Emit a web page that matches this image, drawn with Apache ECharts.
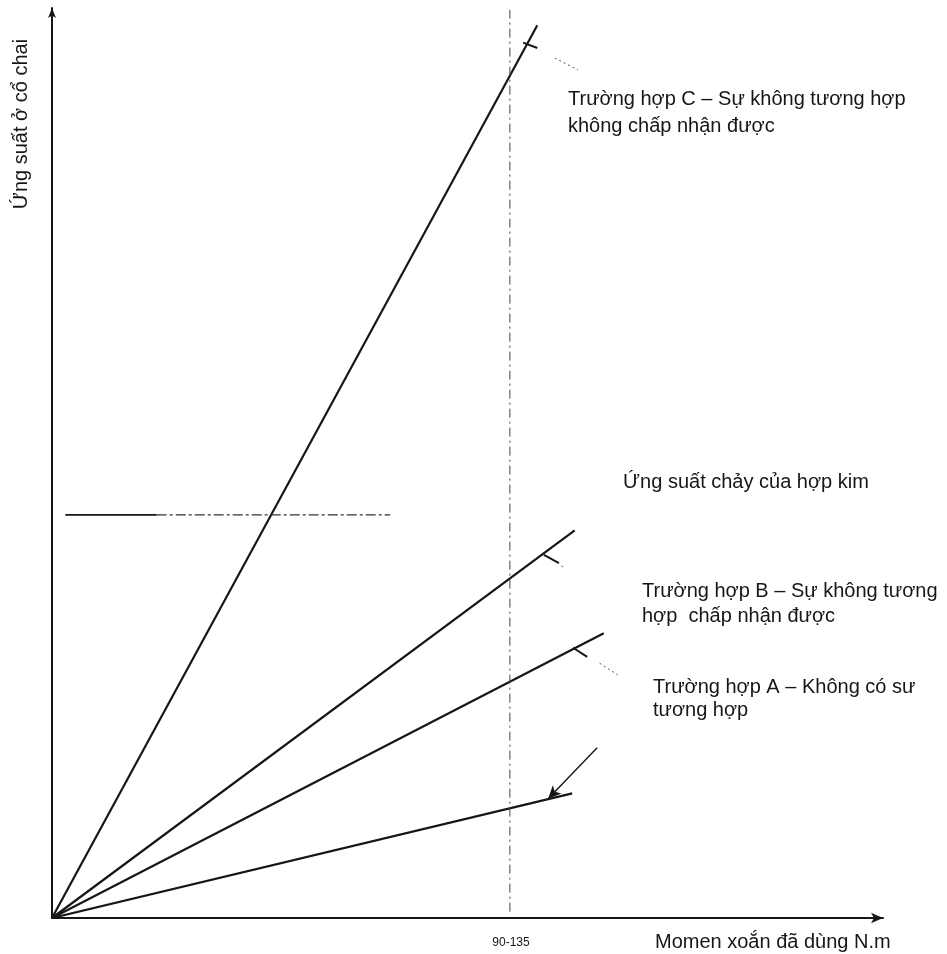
<!DOCTYPE html>
<html>
<head>
<meta charset="utf-8">
<script src="https://cdn.jsdelivr.net/npm/echarts@6/dist/echarts.min.js"></script>
<style>
html,body{margin:0;padding:0;background:#fff;}
#chart{width:947px;height:954px;}
</style>
</head>
<body>
<div id="chart"></div>
<script>
// rays from the origin, end points in axis units (0..100)
var caseC = [[0, 0], [58.4, 98.1]];
var caseB = [[0, 0], [62.9, 42.6]];
var caseA = [[0, 0], [66.4, 31.3]];
var caseLow = [[0, 0], [62.6, 13.7]];
// 90-135 N.m marker and yield stress level
var torqueX = 55.1;
var torqueLine = [[torqueX, 0.7], [torqueX, 99.8]];
var yieldY = 44.3;
var yieldSolid = [[1.6, yieldY], [12.6, yieldY]];
var yieldDash = [[12.6, yieldY], [40.7, yieldY]];
// leader ticks / dotted pointers
var tickC = [[56.7, 96.2], [58.4, 95.6]];
var dotC = [[60.5, 94.5], [63.3, 93.2]];
var tickB = [[59.2, 39.9], [61.0, 39.0]];
var dotB = [[61.3, 38.7], [61.6, 38.5]];
var tickA = [[62.7, 29.7], [64.4, 28.7]];
var dotA = [[65.9, 28.0], [68.1, 26.7]];
var arrowLow = [[65.6, 18.7], [59.7, 13.1]];

var dom = document.getElementById('chart');
var myChart = echarts.init(dom);
var ink = '#161616';
var font = "'Liberation Sans', Arial, sans-serif";

function seg(data, w, type, color) {
	return {
		type: 'line',
		data: data,
		symbol: 'none',
		silent: true,
		lineStyle: {color: color || ink, width: w, type: type || 'solid'}
	};
}

function txt(s, x, y) {
	return {
		type: 'text',
		left: x,
		top: y - 11,
		style: {text: s, fill: ink, font: '20px ' + font}
	};
}

// pointer with an arrow head, drawn as a markLine on the low ray
var lowSeries = seg(caseLow, 2.2);
lowSeries.markLine = {
	silent: true,
	animation: false,
	symbol: ['none', 'arrow'],
	symbolSize: [9, 13],
	label: {show: false},
	lineStyle: {color: ink, width: 1.4, type: 'solid'},
	data: [[{coord: arrowLow[0]}, {coord: arrowLow[1]}]]
};

option = {
	animation: false,
	backgroundColor: '#fff',
	grid: {left: 52, top: 8, right: 64, bottom: 36},
	xAxis: {
		type: 'value', min: 0, max: 100,
		axisLine: {show: true, symbol: ['none', 'arrow'], symbolSize: [8, 12], lineStyle: {color: ink, width: 2}},
		axisTick: {show: false}, axisLabel: {show: false}, splitLine: {show: false}
	},
	yAxis: {
		type: 'value', min: 0, max: 100,
		axisLine: {show: true, symbol: ['none', 'arrow'], symbolSize: [6, 10], lineStyle: {color: ink, width: 2}},
		axisTick: {show: false}, axisLabel: {show: false}, splitLine: {show: false}
	},
	series: [
		seg(caseC, 2.2),
		seg(caseB, 2.2),
		seg(caseA, 2.2),
		lowSeries,
		seg(torqueLine, 1, [9, 4, 2, 4], '#444'),
		seg(yieldSolid, 1.8),
		seg(yieldDash, 1.4, [10, 3, 3, 3], '#333'),
		seg(tickC, 2),
		seg(dotC, 1, [2, 3], '#555'),
		seg(tickB, 2),
		seg(dotB, 1, [2, 3], '#555'),
		seg(tickA, 2),
		seg(dotA, 1, [2, 3], '#555')
	],
	graphic: [
		txt('Trường hợp C – Sự không tương hợp', 568, 100),
		txt('không chấp nhận được', 568, 127),
		txt('Ứng suất chảy của hợp kim', 623, 483),
		txt('Trường hợp B – Sự không tương', 642, 592),
		txt('hợp  chấp nhận được', 642, 617),
		txt('Trường hợp A – Không có sư', 653, 688),
		txt('tương hợp', 653, 711),
		txt('Momen xoắn đã dùng N.m', 655, 943),
		{
			type: 'text', x: 511, y: 943,
			style: {text: '90-135', fill: ink, font: '12px ' + font, align: 'center', verticalAlign: 'middle'}
		},
		{
			type: 'text', x: 21, y: 124, rotation: Math.PI / 2,
			style: {text: 'Ứng suất ở cổ chai', fill: ink, font: '20px ' + font, align: 'center', verticalAlign: 'middle'}
		}
	]
};
myChart.setOption(option, true);
</script>
</body>
</html>
